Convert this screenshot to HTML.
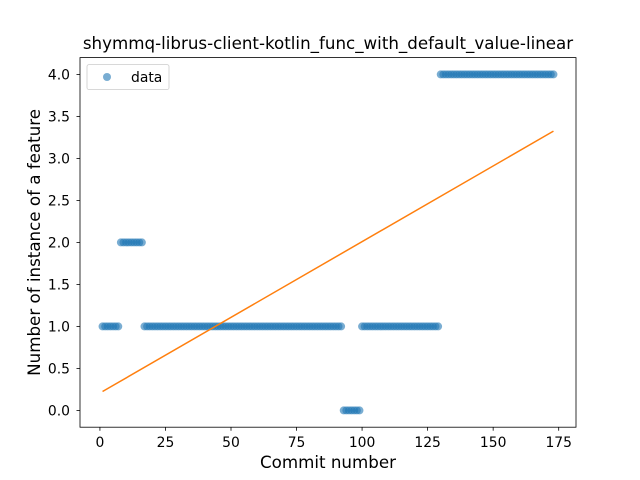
<!DOCTYPE html>
<html><head><meta charset="utf-8"><style>body{margin:0;background:#fff}svg{display:block;font-family:"DejaVu Sans","Liberation Sans",sans-serif}</style></head>
<body>
<svg id="chart" width="640" height="480" viewBox="0 0 640 480"></svg>
<script>
const segValues = [1, 2, 1, 0, 1, 4];
const segStarts = [1, 8, 17, 93, 100, 130];
const segEnds = [7, 16, 92, 99, 129, 173];
const xTicks = [0, 25, 50, 75, 100, 125, 150, 175];
const yTicks = [0.0, 0.5, 1.0, 1.5, 2.0, 2.5, 3.0, 3.5, 4.0];

const L=80,R=576,T=57.6,B=427.2;
const xMin=-7.6,xMax=181.6,yMin=-0.2,yMax=4.2;
const sx=v=>L+(v-xMin)/(xMax-xMin)*(R-L);
const sy=v=>B-(v-yMin)/(yMax-yMin)*(B-T);
const svg=document.getElementById('chart');
const NS='http://www.w3.org/2000/svg';
function mk(tag,attrs,parent){const e=document.createElementNS(NS,tag);for(const k in attrs)e.setAttribute(k,attrs[k]);(parent||svg).appendChild(e);return e;}

const xs=[],ys=[];
segValues.forEach((v,i)=>{for(let x=segStarts[i];x<=segEnds[i];x++){xs.push(x);ys.push(v);}});

const pts=mk('g',{});


xs.forEach((x,i)=>{const c=mk('circle',{cx:sx(x),cy:sy(ys[i]),r:4,fill:'#1f77b4','fill-opacity':0.6},pts);

});

const n=xs.length,mx=xs.reduce((a,b)=>a+b)/n,my=ys.reduce((a,b)=>a+b)/n;
let sxy=0,sxx=0;xs.forEach((x,i)=>{sxy+=(x-mx)*(ys[i]-my);sxx+=(x-mx)*(x-mx);});
const m=sxy/sxx,b0=my-m*mx;
const x0=xs[0],x1=xs[n-1];
const fl=mk('line',{x1:sx(x0),y1:sy(m*x0+b0),x2:sx(x1),y2:sy(m*x1+b0),stroke:'#ff7f0e','stroke-width':1.5});



const fr=mk('rect',{x:L,y:T,width:R-L,height:B-T,fill:'none',stroke:'#000','stroke-width':0.8});



xTicks.forEach(t=>{const X=sx(t);mk('line',{x1:X,y1:B,x2:X,y2:B+3.5,stroke:'#000','stroke-width':0.8});
const tx=mk('text',{x:X,y:B+20,'font-size':13.9,'text-anchor':'middle'});tx.textContent=t;

});
yTicks.forEach(t=>{const Y=sy(t);mk('line',{x1:L,y1:Y,x2:L-3.5,y2:Y,stroke:'#000','stroke-width':0.8});
const tx=mk('text',{x:L-10,y:Y+5,'font-size':13.9,'text-anchor':'end'});tx.textContent=t.toFixed(1);

});

let t=mk('text',{x:(L+R)/2,y:468,'font-size':16.7,'text-anchor':'middle'});t.textContent='Commit number';


t=mk('text',{x:0,y:0,'font-size':16.7,'text-anchor':'middle',transform:`translate(40,${(T+B)/2}) rotate(-90)`});t.textContent='Number of instance of a feature';


t=mk('text',{x:(L+R)/2,y:49,'font-size':16.7,'text-anchor':'middle'});t.textContent='shymmq-librus-client-kotlin_func_with_default_value-linear';



const lg=mk('g',{});


mk('rect',{x:87,y:64.6,width:82,height:25,rx:2,fill:'#fff',stroke:'#ccc','stroke-width':0.8},lg);
mk('circle',{cx:107,cy:77,r:4,fill:'#1f77b4','fill-opacity':0.6},lg);
t=mk('text',{x:131,y:82,'font-size':13.9},lg);t.textContent='data';


</script>
</body></html>
